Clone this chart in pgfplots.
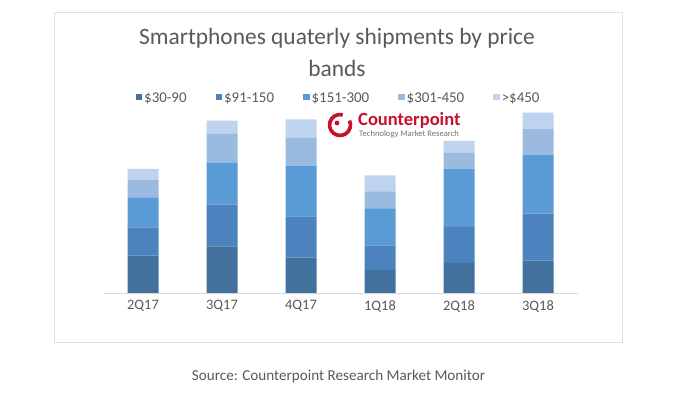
\documentclass[border=0pt]{standalone}
\usepackage{pgfplots}
\usepackage{pgfplotstable}
\pgfplotsset{compat=1.18}
\usepackage{fontspec}
\setmainfont{Carlito}
\definecolor{c1}{HTML}{41719C}
\definecolor{c2}{HTML}{4C82BD}
\definecolor{c3}{HTML}{5B9BD5}
\definecolor{c4}{HTML}{9BBAE0}
\definecolor{c5}{HTML}{BDD3EE}
\definecolor{txt}{HTML}{595959}
\definecolor{cpred}{HTML}{C8102E}
\pgfplotstableread{
x a b c d e
0 37.3 28.4 30.0 17.3 11.0
1 46.6 41.7 41.7 29.0 13.3
2 35.3 41.3 50.3 28.3 18.3
3 23.0 24.7 37.0 17.0 16.0
4 30.0 36.0 58.3 15.7 12.0
5 32.3 47.0 59.0 26.0 16.0
}\data
\newcommand{\sq}[1]{\fill[#1] (-3bp,-2.5bp) rectangle (3.5bp,4bp);}
\begin{document}
\begin{tikzpicture}
\path (0,0) rectangle (680bp,399bp);
\draw[color=black!12, line width=1bp] (54bp,56bp) rectangle (622bp,386bp);
\begin{axis}[at={(103.5bp,106bp)}, anchor=south west, scale only axis,
  width=474bp, height=200bp, xmin=-0.5, xmax=5.5, ymin=0, ymax=200,
  ybar stacked, bar width=31bp,
  axis y line=none, axis x line*=bottom,
  x axis line style={draw=black!15, line width=0.8bp, -},
  xtick=data, xticklabels={2Q17,3Q17,4Q17,1Q18,2Q18,3Q18},
  major tick length=0pt, xtick style={draw=none},
  xticklabel style={font=\fontsize{14.5}{17}\selectfont, text=txt, yshift=-4bp},
  legend columns=5,
  legend style={draw=none, fill=none, at={(0.496,0.975)}, anchor=center,
    font=\fontsize{15}{18}\selectfont, text=txt,
    /tikz/every even column/.append style={column sep=27bp}},
  legend cell align=left,
]
\addplot[fill=c1, draw=none, legend image code/.code={\sq{c1}}] table[x=x, y=a] {\data};
\addplot[fill=c2, draw=none, legend image code/.code={\sq{c2}}] table[x=x, y=b] {\data};
\addplot[fill=c3, draw=none, legend image code/.code={\sq{c3}}] table[x=x, y=c] {\data};
\addplot[fill=c4, draw=none, legend image code/.code={\sq{c4}}] table[x=x, y=d] {\data};
\addplot[fill=c5, draw=none, legend image code/.code={\sq{c5}}] table[x=x, y=e] {\data};
\legend{\$30-90,\$91-150,\$151-300,\$301-450,>\$450}
\end{axis}
\node[text=txt, font=\fontsize{23.5}{28}\selectfont] at (337bp,361bp) {Smartphones quaterly shipments by price};
\node[text=txt, font=\fontsize{23.5}{28}\selectfont] at (337bp,331bp) {bands};
% Counterpoint logo
\draw[cpred, line width=3.6bp] (340bp,274bp) ++(75:10.5bp) arc (75:385:10.5bp);
\fill[cpred] (337bp,276bp) circle (2.4bp);
\node[anchor=west, text=cpred, font=\fontsize{18.6}{22}\selectfont\bfseries, inner sep=0pt] at (358bp,279bp) {Counterpoint};
\node[anchor=west, text=black!55, font=\fontsize{8.6}{10}\selectfont, inner sep=0pt] at (359bp,265bp) {Technology Market Research};
\node[text=txt, font=\fontsize{15.2}{18}\selectfont] at (338.5bp,23bp) {Source: Counterpoint Research Market Monitor};
\end{tikzpicture}
\end{document}
